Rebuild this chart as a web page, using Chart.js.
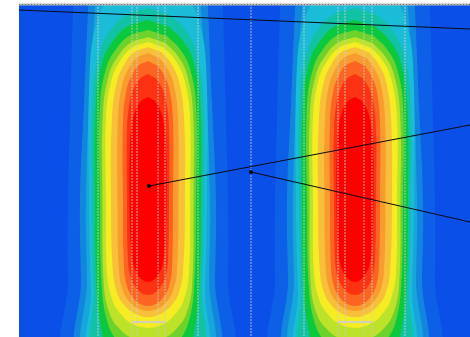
<!DOCTYPE html>
<html>
<head>
<meta charset="utf-8">
<script src="https://cdn.jsdelivr.net/npm/chart.js@4.4.0/dist/chart.umd.min.js"></script>
<style>
  html, body { margin: 0; padding: 0; background: #fff; }
  #wrap { width: 470px; height: 337px; }
</style>
</head>
<body>
<div id="wrap"><canvas id="canvas"></canvas></div>
<script>
// field extent (x across, y down from the top edge)
var xRange = [0, 451];
var yRange = [0, 333];

// two hot spots, x of their axes
var blobCenters = [129, 336];

// contour bands, outermost first
var levelColors = [
  '#0c5fe6', '#1286de', '#16a6dc', '#1abcd8', '#12c2a4', '#0cc83e', '#6ed22c',
  '#bce22a', '#f6ec24', '#f8c03a', '#f89c30', '#fc6422', '#fc3212', '#ff0000'
];

// half outline of each band: [distance from axis, depth], top to bottom
var levelOutlines = [
  [[73, -24], [75, 6], [78, 116], [80, 196], [80, 276], [78, 356]],
  [[58, -24], [60, 6], [64, 100], [68, 196], [67, 276], [65, 356]],
  [[50, -24], [53, 6], [58, 80], [62, 196], [61, 276], [59, 356]],
  [[0, -30], [22.7, -22.8], [38.3, -7.5], [50.2, 15], [58, 60], [59, 196], [57, 286], [54, 356]],
  [[0, 4], [21.6, 10.8], [36.4, 25], [47.6, 46.5], [55, 89], [56, 196], [54, 286], [50, 356]],
  [[0, 16], [20.4, 22.4], [34.4, 36], [45, 56], [52, 96], [53, 196], [51, 290], [45, 335], [38, 370]],
  [[0, 26], [18.8, 32], [31.7, 44.8], [41.6, 63.5], [48, 101], [48, 196], [46, 285], [40, 320], [30.4, 337.5], [18, 349.4], [0, 355]],
  [[0, 33], [17.6, 39], [29.7, 51.8], [39, 70.5], [45, 108], [45.5, 196], [44, 283], [38, 310.5], [29, 324.3], [17, 333.6], [0, 338]],
  [[0, 38], [16.5, 44], [27.8, 56.8], [36.4, 75.5], [42, 113], [42, 196], [41, 269], [35.5, 296.5], [27.1, 310.3], [16.1, 319.6], [0, 324]],
  [[0, 43], [14.1, 48.6], [23.8, 60.5], [31.2, 78], [36, 113], [37, 196], [35, 268], [30.3, 290.5], [23.1, 301.8], [13.7, 309.4], [0, 313]],
  [[0, 49], [11.8, 54.2], [19.8, 65.3], [26, 81.5], [30, 114], [30.5, 196], [29, 267], [25.1, 287], [19.2, 297], [11.4, 303.8], [0, 307]],
  [[0, 57], [9.8, 61.8], [16.5, 72], [21.7, 87], [25, 117], [25, 196], [24, 264], [20.8, 283], [15.9, 292.5], [9.4, 299], [0, 302]],
  [[0, 70], [8, 74.4], [14, 83.8], [18.2, 97.5], [21, 125], [21, 196], [20, 256], [17.3, 273.5], [13.2, 282], [7.8, 288], [0, 291]],
  [[0, 93], [7, 97], [12, 105.5], [15.6, 118], [18, 143], [18.5, 196], [17, 243], [14.7, 260.5], [11.2, 269], [6.6, 275], [0, 278]]
];

// dotted guide lines
var guideX = [79, 113, 118, 139, 146, 179, 232, 285, 319, 326, 345, 353, 386];
var guideBars = [[113, 146, 318], [319, 353, 318]];

// black section lines: start, end
var sectionLines = [
  [[0, 6], [451, 25]],
  [[130, 182], [451, 121]],
  [[232, 168], [451, 218]]
];
var sectionMarked = [false, true, true];

function bandShape(center, outline) {
  var pts = outline.map(function (p) { return {x: center - p[0], y: p[1]}; });
  outline.slice().reverse().forEach(function (p) {
    if (p[0] !== 0) pts.push({x: center + p[0], y: p[1]});
  });
  return pts;
}

var datasets = [];
levelOutlines.forEach(function (outline, i) {
  blobCenters.forEach(function (c) {
    datasets.push({
      data: bandShape(c, outline),
      backgroundColor: levelColors[i],
      borderWidth: 0,
      pointRadius: 0,
      tension: 0.4,
      fill: 'shape',
      order: 100 - i
    });
  });
});

guideX.forEach(function (x) {
  datasets.push({
    data: [{x: x, y: yRange[0]}, {x: x, y: yRange[1]}],
    borderColor: 'rgba(205,205,205,0.85)',
    borderWidth: 1,
    borderDash: [2, 1],
    pointRadius: 0,
    fill: false,
    order: 10
  });
});
guideBars.forEach(function (b) {
  datasets.push({
    data: [{x: b[0], y: b[2]}, {x: b[1], y: b[2]}],
    borderColor: 'rgba(205,205,205,0.9)',
    borderWidth: 2,
    pointRadius: 0,
    fill: false,
    order: 10
  });
});

sectionLines.forEach(function (s, i) {
  datasets.push({
    data: [{x: s[0][0], y: s[0][1]}, {x: s[1][0], y: s[1][1]}],
    borderColor: '#0a0a14',
    borderWidth: 1,
    pointRadius: sectionMarked[i] ? [2, 0] : 0,
    pointBackgroundColor: '#000',
    pointBorderWidth: 0,
    fill: false,
    order: 0
  });
});

var fieldBackground = {
  id: 'fieldBackground',
  beforeDatasetsDraw: function (chart) {
    var a = chart.chartArea, ctx = chart.ctx;
    ctx.save();
    ctx.fillStyle = '#0a50e8';
    ctx.fillRect(a.left, a.top, a.right - a.left, a.bottom - a.top);
    ctx.restore();
  },
  afterDraw: function (chart) {
    var a = chart.chartArea, ctx = chart.ctx;
    ctx.save();
    ctx.strokeStyle = '#b9b9b9';
    ctx.lineWidth = 2;
    ctx.beginPath();
    ctx.moveTo(a.left, a.top + 0.5);
    ctx.lineTo(a.right, a.top + 0.5);
    ctx.stroke();
    ctx.strokeStyle = '#6e6e6e';
    ctx.lineWidth = 1;
    ctx.setLineDash([1, 2]);
    ctx.beginPath();
    ctx.moveTo(a.left, a.top + 0.5);
    ctx.lineTo(a.right, a.top + 0.5);
    ctx.stroke();
    ctx.restore();
  }
};

window.onload = function () {
  var ctx = document.getElementById('canvas').getContext('2d');
  window.myChart = new Chart(ctx, {
    type: 'line',
    data: {datasets: datasets},
    options: {
      responsive: true,
      maintainAspectRatio: false,
      animation: false,
      events: [],
      layout: {autoPadding: false, padding: {left: 19, top: 4, right: 0, bottom: 0}},
      elements: {line: {capBezierPoints: false}},
      plugins: {legend: {display: false}, tooltip: {enabled: false}},
      scales: {
        x: {type: 'linear', min: xRange[0], max: xRange[1], display: false},
        y: {type: 'linear', min: yRange[0], max: yRange[1], reverse: true, display: false}
      }
    },
    plugins: [fieldBackground]
  });
};
</script>
</body>
</html>
